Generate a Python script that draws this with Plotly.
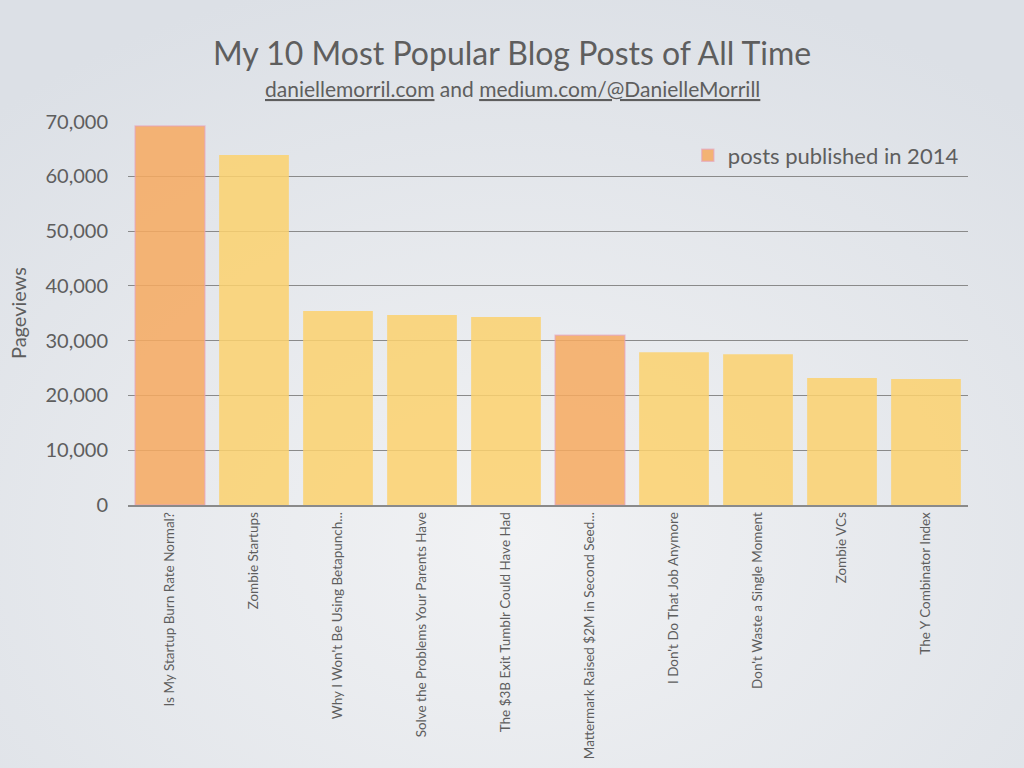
import base64
import plotly.graph_objects as go

posts = [
    "Is My Startup Burn Rate Normal?",
    "Zombie Startups",
    "Why I Won't Be Using Betapunch...",
    "Solve the Problems Your Parents Have",
    "The $3B Exit Tumblr Could Have Had",
    "Mattermark Raised $2M in Second Seed...",
    "I Don't Do That Job Anymore",
    "Don't Waste a Single Moment",
    "Zombie VCs",
    "The Y Combinator Index",
]
pageviews = [69200, 63900, 35400, 34700, 34300, 31000, 27900, 27500, 23200, 23000]
published_2014 = [True, False, False, False, False, True, False, False, False, False]

ORANGE = "rgba(246,170,97,0.86)"
YELLOW = "rgba(252,210,111,0.86)"
FONT = "Lato"
TXT = "#5e5e5e"

W, H = 1024, 768
ML, MR, MT, MB = 128, 56, 121, 263
PW, PH = W - ML - MR, H - MT - MB

x_new = [p for p, f in zip(posts, published_2014) if f]
y_new = [v for v, f in zip(pageviews, published_2014) if f]
x_old = [p for p, f in zip(posts, published_2014) if not f]
y_old = [v for v, f in zip(pageviews, published_2014) if not f]

svg = (
    "<svg xmlns='http://www.w3.org/2000/svg' width='1024' height='768'>"
    "<defs><radialGradient id='g' cx='0.5' cy='0.7' r='0.75'>"
    "<stop offset='0' stop-color='#f1f2f4'/><stop offset='1' stop-color='#dce0e6'/>"
    "</radialGradient></defs><rect width='1024' height='768' fill='url(#g)'/></svg>"
)
bg_src = "data:image/svg+xml;base64," + base64.b64encode(svg.encode()).decode()

fig = go.Figure()
fig.add_trace(go.Bar(x=x_old, y=y_old, marker=dict(color=YELLOW, line=dict(width=0)),
                     showlegend=False, name="other posts"))
fig.add_trace(go.Bar(x=x_new, y=y_new,
                     marker=dict(color=ORANGE, line=dict(color="rgba(230,160,185,0.6)", width=1.5)),
                     name="posts published in 2014", showlegend=True))

fig.update_layout(
    width=W, height=H,
    paper_bgcolor="#e8eaed", plot_bgcolor="rgba(0,0,0,0)",
    margin=dict(l=ML, r=MR, t=MT, b=MB, autoexpand=False),
    barmode="overlay", bargap=0.17,
    font=dict(family=FONT, color=TXT),
    images=[dict(source=bg_src, xref="paper", yref="paper",
                 x=-ML / PW, y=1 + MT / PH, sizex=W / PW, sizey=H / PH,
                 xanchor="left", yanchor="top", sizing="stretch", layer="below")],
    annotations=[
        dict(text="My 10 Most Popular Blog Posts of All Time", xref="paper", yref="paper",
             x=(512 - ML) / PW, y=1 + (MT - 52) / PH, xanchor="center", yanchor="middle",
             showarrow=False, font=dict(family=FONT, size=32, color=TXT)),
        dict(text="<u>daniellemorril.com</u> and <u>medium.com/@DanielleMorrill</u>",
             xref="paper", yref="paper",
             x=(512 - ML) / PW, y=1 + (MT - 88) / PH, xanchor="center", yanchor="middle",
             showarrow=False, font=dict(family=FONT, size=21, color=TXT)),
    ],
    legend=dict(x=0.995, xanchor="right", y=0.965, yanchor="top",
                bgcolor="rgba(0,0,0,0)", font=dict(size=22, color=TXT, family=FONT),
                itemwidth=30),
    xaxis=dict(categoryorder="array", categoryarray=posts, tickangle=-90,
               tickfont=dict(size=13.5, color=TXT, family=FONT), automargin=False,
               showline=True, linecolor="#8a8a8a", linewidth=1.5, ticks="",
               showgrid=False),
    yaxis=dict(range=[0, 70100], tickvals=[0, 10000, 20000, 30000, 40000, 50000, 60000, 70000],
               tickformat=",d", automargin=False,
               tickfont=dict(size=20, color=TXT, family=FONT),
               showgrid=True, gridcolor="#8a8a8a", gridwidth=1.2,
               zeroline=False, ticks="", ticklabelstandoff=19,
               title=dict(text="Pageviews", font=dict(size=20, color=TXT, family=FONT), standoff=13)),
)

fig.write_html(
    "out.html",
    config={"displayModeBar": False},
    post_script="document.body.style.margin='0';document.body.style.background='#e8eaed';",
)
